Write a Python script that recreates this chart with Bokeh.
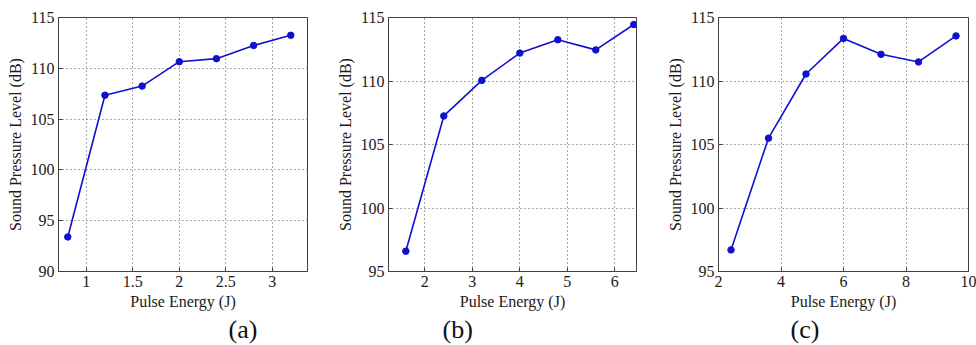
from bokeh.plotting import figure
from bokeh.layouts import row
from bokeh.models import Range1d, FixedTicker, Title
from bokeh.embed import file_html
from bokeh.resources import INLINE

# ---- data ----
energy_a = [0.8, 1.2, 1.6, 2.0, 2.4, 2.8, 3.2]
spl_a = [93.4, 107.35, 108.25, 110.65, 110.95, 112.25, 113.25]

energy_b = [1.6, 2.4, 3.2, 4.0, 4.8, 5.6, 6.4]
spl_b = [96.6, 107.25, 110.05, 112.2, 113.25, 112.45, 114.45]

energy_c = [2.4, 3.6, 4.8, 6.0, 7.2, 8.4, 9.6]
spl_c = [96.7, 105.5, 110.55, 113.35, 112.1, 111.5, 113.55]

xticks_a = [1, 1.5, 2, 2.5, 3]
xticks_b = [2, 3, 4, 5, 6]
xticks_c = [2, 4, 6, 8, 10]
yticks_a = [90, 95, 100, 105, 110, 115]
yticks_bc = [95, 100, 105, 110, 115]

FONT = "'Liberation Serif', 'Times New Roman', serif"
BLUE = "#1010d0"
FRAME = "#404040"


def panel(xs, ys, xr, yr, xt, yt, width, right_border, tag, tag_offset):
    p = figure(width=width, height=345, output_backend="svg", toolbar_location=None,
               x_range=Range1d(*xr), y_range=Range1d(*yr),
               min_border_left=58, min_border_right=right_border,
               min_border_top=17, min_border_bottom=74)
    p.background_fill_color = "white"
    p.border_fill_color = "white"
    p.outline_line_color = FRAME
    p.outline_line_width = 1
    p.line(xs, ys, line_color=BLUE, line_width=1.6)
    p.scatter(xs, ys, size=6.5, fill_color=BLUE, line_color=BLUE)

    p.xaxis.ticker = FixedTicker(ticks=xt)
    p.yaxis.ticker = FixedTicker(ticks=yt)
    for ax in (p.xaxis, p.yaxis):
        ax.axis_line_color = FRAME
        ax.major_tick_in = 4
        ax.major_tick_out = 0
        ax.minor_tick_line_color = None
        ax.major_tick_line_color = FRAME
        ax.major_label_text_font = FONT
        ax.major_label_text_font_size = "16px"
        ax.major_label_text_color = "#1a1a1a"
        ax.axis_label_text_font = FONT
        ax.axis_label_text_font_size = "16px"
        ax.axis_label_text_font_style = "normal"
        ax.axis_label_text_color = "#1a1a1a"
        ax.major_label_standoff = 4
        ax.axis_label_standoff = 3
    p.xaxis.axis_label = "Pulse Energy (J)"
    p.yaxis.axis_label = "Sound Pressure Level (dB)"
    p.yaxis.axis_label_standoff = 4

    p.xgrid.ticker = FixedTicker(ticks=xt)
    p.ygrid.ticker = FixedTicker(ticks=yt)
    for g in (p.xgrid, p.ygrid):
        g.grid_line_color = "#555555"
        g.grid_line_dash = "1 3"
        g.grid_line_width = 1

    t = Title(text=tag, align="left", offset=tag_offset, text_font=FONT,
              text_font_size="26px", text_font_style="normal", text_color="#111111",
              standoff=0)
    p.add_layout(t, "below")
    return p


pa = panel(energy_a, spl_a, (0.7, 3.38), (90, 115), xticks_a, yticks_a, 330, 23, "(a)", 170)
pb = panel(energy_b, spl_b, (1.235, 6.457), (95, 115), xticks_b, yticks_bc, 330, 24, "(b)", 54)
pc = panel(energy_c, spl_c, (2, 10), (95, 115), xticks_c, yticks_bc, 316, 8, "(c)", 72)

layout = row(pa, pb, pc, spacing=0)
open("out.html", "w").write(file_html(layout, INLINE))
